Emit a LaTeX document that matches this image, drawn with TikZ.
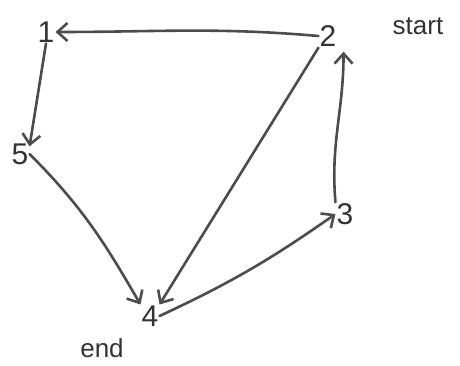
\documentclass[tikz,border=0pt]{standalone}
\usepackage{fontspec}
\setmainfont{Liberation Sans}
\usetikzlibrary{arrows.meta}
\begin{document}
\begin{tikzpicture}[x=1pt,y=-1pt,
  vert/.style={font=\fontsize{30}{30}\selectfont, text=black!80, inner sep=1pt},
  lab/.style={font=\fontsize{26}{26}\selectfont, text=black!80, inner sep=1pt},
  edge/.style={draw=black!70, line width=2.6pt, line cap=round, -{Straight Barb[length=10pt,width=18pt,line width=2.6pt]}}]
\useasboundingbox (0,0) rectangle (460,366);
\node[vert] (n1) at (46,32) {1};
\node[vert] (n2) at (328,36) {2};
\node[lab] (start) at (418,26) {start};
\node[vert] (n5) at (20,154) {5};
\node[vert] (n3) at (345,214) {3};
\node[vert] (n4) at (150,316) {4};
\node[lab] (end) at (102,348) {end};
\draw[edge] (n2.west) to[out=175,in=0] (n1.east);
\draw[edge] (n1.south) -- ([yshift=-4pt]n5.north east);
\draw[edge] (n5.east) to[out=-45,in=120] (n4.north west);
\draw[edge] (n2.south west) -- (n4.north east);
\draw[edge] (n4.east) to[out=25,in=-145] (n3.west);
\draw[edge] (n3.north west) to[out=95,in=-90] ([xshift=6pt,yshift=-4pt]n2.south east);
\end{tikzpicture}
\end{document}
